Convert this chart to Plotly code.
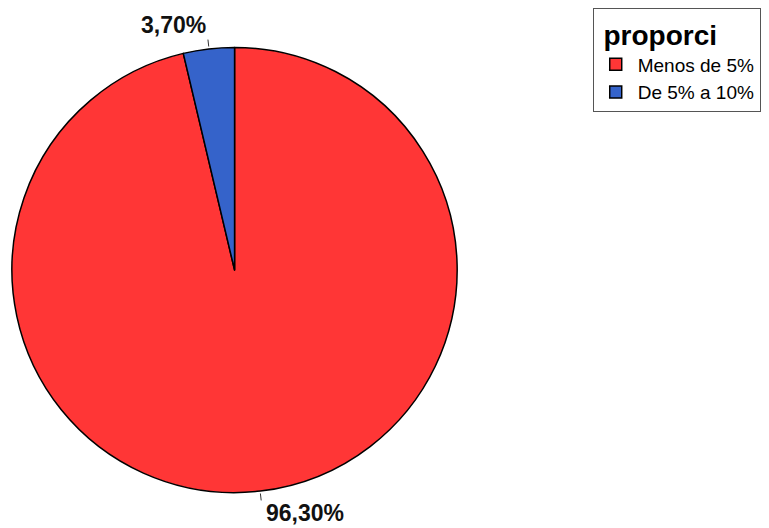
import math
import plotly.graph_objects as go

categories = ["Menos de 5%", "De 5% a 10%"]
values = [96.30, 3.70]
colors = ["#FF3636", "#3563CA"]
legend_title = "proporci"

# page is rendered with an 8px body margin; keep the figure inside the window width
OFF = 8
W, H = 769 - 2 * OFF, 528 - OFF
cx_px, cy_px, r_px = 237 - OFF, 270 - OFF, 225  # pie geometry in figure pixels

dom_x = [(cx_px - r_px) / W, (cx_px + r_px) / W]
dom_y = [1 - (cy_px + r_px) / H, 1 - (cy_px - r_px) / H]

fig = go.Figure(go.Pie(
    labels=categories, values=values, sort=False, direction="clockwise",
    rotation=0, textinfo="none", hoverinfo="label+percent",
    marker=dict(colors=colors, line=dict(color="black", width=1.5)),
    domain=dict(x=dom_x, y=dom_y),
))

# outside labels with short leader ticks, computed from the values
total = sum(values)
start = 0.0
shapes, annotations = [], []
for v in values:
    frac = v / total
    mid = (start + frac / 2) * 2 * math.pi
    start += frac
    s, c = math.sin(mid), math.cos(mid)
    x0, y0 = cx_px + r_px * s, cy_px - r_px * c
    x1, y1 = cx_px + (r_px + 7) * s, cy_px - (r_px + 7) * c
    shapes.append(dict(type="line", xref="paper", yref="paper",
                       x0=x0 / W, y0=1 - y0 / H, x1=x1 / W, y1=1 - y1 / H,
                       line=dict(color="#333333", width=1)))
    txt = f"{v:.2f}%".replace(".", ",")
    annotations.append(dict(
        text=f"<b>{txt}</b>", xref="paper", yref="paper",
        x=(x1 + (0 if s < 0 else 3)) / W, y=1 - (y1 + (0 if c > 0 else -2)) / H,
        xanchor="right" if s < 0 else "left",
        yanchor="bottom" if c > 0 else "top",
        showarrow=False, font=dict(family="Liberation Sans, Arial", size=23, color="#111111"),
    ))

fig.update_layout(
    width=W, height=H, margin=dict(l=0, r=0, t=0, b=0),
    paper_bgcolor="white", plot_bgcolor="white",
    shapes=shapes, annotations=annotations,
    legend=dict(
        title=dict(text=f"&nbsp;<b>{legend_title}</b>", side="top",
                   font=dict(family="Liberation Sans, Arial", size=28, color="black")),
        x=(599 - OFF) / W, y=1.0, xanchor="left", yanchor="top",
        bordercolor="#555555", borderwidth=1, bgcolor="white",
        font=dict(family="Liberation Sans, Arial", size=19, color="black"),
        tracegroupgap=0, itemwidth=34,
    ),
)

fig.write_html("out.html")
